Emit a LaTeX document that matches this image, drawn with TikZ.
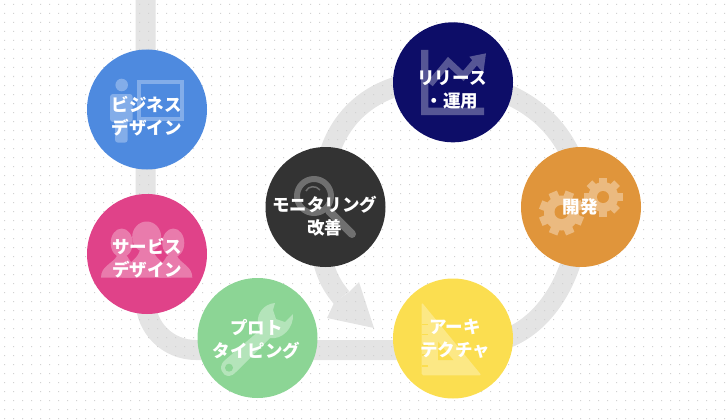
\documentclass[tikz,border=0pt]{standalone}
\usepackage{fontspec}
\setmainfont{Noto Sans CJK JP}
\usetikzlibrary{positioning, backgrounds}
\definecolor{bluecol}{HTML}{4E8ADF}
\definecolor{pinkcol}{HTML}{E04289}
\definecolor{greencol}{HTML}{8CD595}
\definecolor{navycol}{HTML}{0D0D68}
\definecolor{orangecol}{HTML}{E0953B}
\definecolor{darkcol}{HTML}{333333}
\definecolor{yellowcol}{HTML}{FBDE50}
\definecolor{bandcol}{HTML}{E4E4E4}
\definecolor{dotcol}{HTML}{D2D2D2}

\begin{document}
\begin{tikzpicture}[x=1pt,y=-1pt,
    phase/.style={circle, fill=#1, minimum size=120pt, inner sep=0pt},
    phasetext/.style={text=white, font=\fontsize{17.5}{23}\selectfont\bfseries, align=center, inner sep=0pt},
    band/.style={draw=bandcol, line width=20pt}]
  \useasboundingbox (0,0) rectangle (728,420);

  \node[phase=bluecol] (business) at (147,109.5) {};
  \node[phase=pinkcol] (service) at (147,254) {};
  \node[phase=greencol] (proto) at (257.5,338) {};
  \node[phase=yellowcol] (arch) at (453,338.5) {};
  \node[phase=orangecol] (dev) at (581,207) {};
  \node[phase=navycol] (release) at (453,82.3) {};
  \node[phase=darkcol] (monitor) at (325.5,207) {};

  \coordinate (top) at (145.5,0);
  \coordinate (turn) at (196,350);
  \coordinate (neck) at (341.5,297.5);

  \begin{pgfonlayer}{background}
    \draw[band] (top) -- (145.5,300) .. controls (145.5,328) and (168,350) .. (turn) -- (turn -| arch.center);
    \draw[band] (arch.center) .. controls (505,360) and (575,315) .. (dev.center);
    \draw[band] (dev.center) .. controls (583,140) and (530,85) .. (release.center);
    \draw[band] (release.center) .. controls (375,72) and (315,125) .. (monitor.center);
    \draw[band] (monitor.center) .. controls (318,240) and (318,270) .. (neck);
    \fill[bandcol] (359,282) -- (374,328) -- (327,318) -- (334,303) -- (349,292) -- cycle;
    \fill[dotcol] \foreach \x in {4,13,...,724} { \foreach \y in {4,13,...,418} { (\x,\y) rectangle +(1,1) } };
  \end{pgfonlayer}

  % business icon
  \fill[white!30!bluecol] (121.7,85) circle[radius=6.3];
  \fill[white!30!bluecol, rounded corners=3pt] (110,94) rectangle (132.7,122);
  \fill[white!30!bluecol, rounded corners=3pt] (115,110) rectangle (127.7,142.7);
  \draw[white!30!bluecol, line width=3.6pt] (139.1,81.8) rectangle (182.2,118.9);

  % service icon
  \fill[white!30!pinkcol] (121.7,243) ellipse[x radius=11, y radius=14.5];
  \fill[white!30!pinkcol] (173.3,243) ellipse[x radius=11, y radius=14.5];
  \fill[white!30!pinkcol] (101,277.6) .. controls (101,266) and (112,264) .. (117,256) -- (127,256) .. controls (130,262) and (136,266) .. (138,277.6) -- cycle;
  \fill[white!30!pinkcol] (192.3,277.6) .. controls (192.3,266) and (181,264) .. (177,256) -- (167,256) .. controls (164,262) and (158,266) .. (156,277.6) -- cycle;
  \fill[white!30!pinkcol] (146.7,237) ellipse[x radius=14.5, y radius=15.5];
  \fill[white!30!pinkcol] (122,277.6) .. controls (122,264) and (137,262) .. (140,250) -- (153,250) .. controls (156,262) and (171,264) .. (171,277.6) -- cycle;

  % proto icon
  \fill[white!35!greencol] (275,303) .. controls (264,304) and (257,313) .. (258,322) .. controls (258,326) and (259,328) .. (260,330)
    -- (224,361) .. controls (218,367) and (222,376) .. (229,376) .. controls (232,376) and (234,374) .. (236,372)
    -- (270,338) .. controls (282,340) and (294,328) .. (293,314) -- (285,322) -- (276,319) -- (273,310) -- cycle;
  \fill[greencol] (229,367.7) circle[radius=4];

  % arch icon
  \fill[white!30!yellowcol, rounded corners=1.5pt] (421.7,302.3) -- (481.5,375.3) -- (421.7,375.3) -- cycle;
  \fill[yellowcol] (438,341.7) -- (453.3,360) -- (438,360) -- cycle;
  \foreach \y in {324.3,334.3,345,355,365.7}
    \fill[yellowcol] (421.7,\y-.8) rectangle (428,\y+.8);

  % dev icon
  \foreach \a in {0,45,...,315} {
    \draw[white!35!orangecol, line width=9pt] (561.5,213) -- +(\a+22:22.5);
    \draw[white!35!orangecol, line width=8pt] (603.3,197) -- +(\a:19.5);
  }
  \fill[white!35!orangecol] (561.5,213) circle[radius=17.5];
  \fill[white!35!orangecol] (603.3,197) circle[radius=15];
  \fill[orangecol] (561.5,212) circle[radius=7];
  \fill[orangecol] (603,197) circle[radius=6];

  % release icon
  \fill[white!30!navycol] (421,50) -- (428.3,50) -- (428.3,107.7) -- (484,107.7) -- (484,115) -- (421,115) -- cycle;
  \draw[white!30!navycol, line width=7pt] (430,84) -- (448.3,62) -- (463.3,76) -- (477,60);
  \fill[white!30!navycol] (486,53.3) -- (469.3,56.7) -- (483.3,73) -- cycle;

  % monitor icon
  \draw[white!30!darkcol, line width=6pt] (314,196) circle[radius=17];
  \draw[white!30!darkcol, line width=8pt, line cap=round] (329,211) -- (352,234);
  \draw[white!30!darkcol, line width=1.5pt] (306,191) .. controls (308,186) and (316,185) .. (320,190);

  \node[phasetext] (businesstext) at ([xshift=-.5pt,yshift=-6.5pt]business.center) {ビジネス\\デザイン};
  \node[phasetext] (servicetext) at ([yshift=-4.5pt]service.center) {サービス\\デザイン};
  \node[phasetext] (prototext) at ([xshift=-1pt,yshift=-1pt]proto.center) {プロト\\タイピング};
  \node[phasetext] (archtext) at ([xshift=2pt]arch.center) {アーキ\\テクチャ};
  \node[phasetext] (devtext) at ([xshift=-1pt]dev.center) {開発};
  \node[phasetext] (releasetext) at ([xshift=-1pt,yshift=-7.5pt]release.center) {リリース\\・運用};
  \node[phasetext] (monitortext) at ([xshift=-1pt,yshift=-9pt]monitor.center) {モニタリング\\改善};
\end{tikzpicture}
\end{document}
